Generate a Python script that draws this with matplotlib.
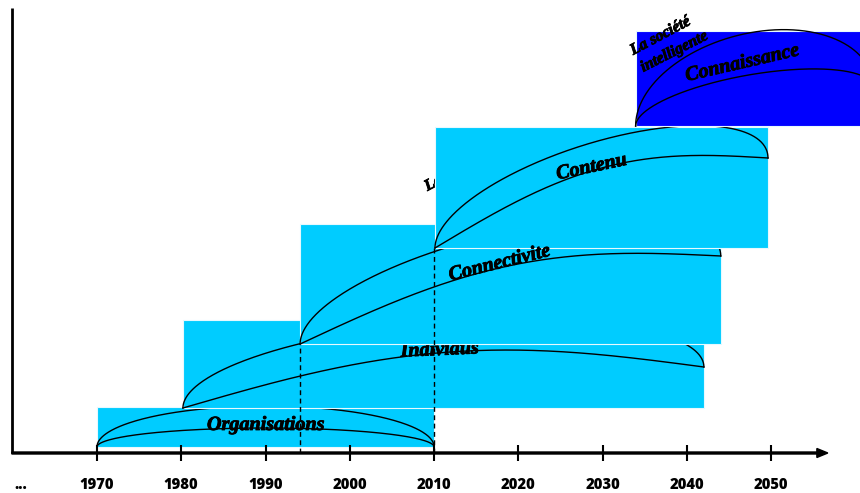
"""
Timeline of the information society eras, drawn as overlapping boxes with crescent arcs.
"""

import numpy as np
import matplotlib
matplotlib.use("Agg")
import matplotlib.pyplot as plt
import matplotlib.patheffects as pe
from matplotlib.patches import Rectangle

# --- Data (x in years, y in level units above the time axis) ---
ERAS = ["Organisations", "Individus", "Connectivite", "Contenu", "Connaissance"]
ERA_START = [1970.0, 1980.2, 1994.1, 2010.1, 2033.9]
BOX_END = [2010.0, 2042.0, 2044.0, 2049.6, 2061.0]
BOX_BOTTOM = [6, 45, 109, 205, 327]
BOX_TOP = [46, 133, 229, 326, 422]
ARC_END_YEAR = [2010.0, 2042.0, 2044.0, 2049.6, 2062.1]
ARC_END_LEVEL = [6, 86, 197, 295, 365]
UPPER_HEIGHT = [41, 66, 69, 63, 75]
LOWER_HEIGHT = [19, 35, 34.5, 35, 33]
LOWER_COSINE = [True, False, False, False, True]

LABEL_YEAR = [1990.05, 2010.7, 2017.9, 2028.8, 2046.7]
LABEL_LEVEL = [23, 98, 185, 281, 385]
LABEL_ROT = [0, 2.5, 14, 12, 13]
LABEL_ON_TOP = [False, False, True, False, False]

TICK_YEARS = [1970, 1980, 1990, 2000, 2010, 2020, 2030, 2040, 2050]
DASHED_YEARS = [1994.1, 2010.0]
DASHED_TOP = [109, 205]

BOX_COLORS = ["#00CCFF", "#00CCFF", "#00CCFF", "#00CCFF", "#0000FF"]

SERIF = "Liberation Serif"
HEAVY = [pe.withStroke(linewidth=0.6, foreground="black")]


def crescent_arc(x0, y0, x1, y1, h, cosine=True, n=300):
    th = np.linspace(0, np.pi, n)
    f = (1 - np.cos(th)) / 2 if cosine else th / np.pi
    x = x0 + (x1 - x0) * f
    y = y0 + (y1 - y0) * f + h * np.sin(th)
    return x, y


def caption(ax, x, y, s, rot, size, z):
    ax.text(x, y, s, rotation=rot, rotation_mode="anchor", ha="left", va="baseline",
            fontsize=size, fontweight="bold", fontstyle="italic", family=SERIF, zorder=z,
            path_effects=HEAVY)


fig = plt.figure(figsize=(8.6, 4.93), dpi=100)
ax = fig.add_axes([0, 0, 1, 1])
ax.set_xlim(1958.5, 1958.5 + 860 / 8.43)
ax.set_ylim(-40, 453)
ax.axis("off")

# --- Era boxes, arcs and labels ---
for i, name in enumerate(ERAS):
    z = 10 * (i + 1)
    ax.add_patch(Rectangle((ERA_START[i], BOX_BOTTOM[i]), BOX_END[i] - ERA_START[i],
                           BOX_TOP[i] - BOX_BOTTOM[i], facecolor=BOX_COLORS[i],
                           edgecolor="#e6f9ff", lw=0.8, zorder=z))
    xu, yu = crescent_arc(ERA_START[i], BOX_BOTTOM[i], ARC_END_YEAR[i], ARC_END_LEVEL[i],
                          UPPER_HEIGHT[i], cosine=True)
    xl, yl = crescent_arc(ERA_START[i], BOX_BOTTOM[i], ARC_END_YEAR[i], ARC_END_LEVEL[i],
                          LOWER_HEIGHT[i], cosine=LOWER_COSINE[i])
    ax.plot(xu, yu, color="black", lw=1.0, zorder=z + 1)
    ax.plot(xl, yl, color="black", lw=1.0, zorder=z + 1)
    ax.text(LABEL_YEAR[i], LABEL_LEVEL[i], name, rotation=LABEL_ROT[i], rotation_mode="anchor",
            ha="center", va="baseline", fontsize=14.5, fontweight="bold", fontstyle="italic",
            family=SERIF, zorder=45 if LABEL_ON_TOP[i] else z + 2, path_effects=HEAVY)

# society captions (the information one sits under the Contenu box)
caption(ax, 2009.2, 262, "La société", 28, 11.5, 35)
caption(ax, 2010.6, 245, "de l'information", 28, 11.5, 35)
caption(ax, 2033.6, 398, "La société", 28, 11.5, 60)
caption(ax, 2034.8, 381, "intelligente", 27, 11.5, 60)

# dashed guides
for yr, top in zip(DASHED_YEARS, DASHED_TOP):
    ax.plot([yr, yr], [0, top], color="black", lw=1.0, ls=(0, (3.5, 2.5)), zorder=36)

# --- Axes drawn by hand ---
y_axis_year = 1959.9
ax.plot([y_axis_year, y_axis_year], [0, 445], color="black", lw=2, zorder=70,
        solid_capstyle="butt")
ax.arrow(y_axis_year, 0, 2056.7 - y_axis_year, 0, width=2, head_width=9, head_length=1.3,
         length_includes_head=True, color="black", zorder=70)
ax.vlines(TICK_YEARS, -8, 8, color="black", lw=1.5, zorder=70)
for yr in TICK_YEARS:
    ax.text(yr, -36, str(yr), ha="center", va="baseline", fontsize=10.6, fontweight="heavy",
            family="Open Sans", zorder=70)
ax.text(1961.0, -36, "...", ha="center", va="baseline", fontsize=10.6, fontweight="heavy",
        family="Open Sans", zorder=70)

fig.savefig("out.png", dpi=100)
